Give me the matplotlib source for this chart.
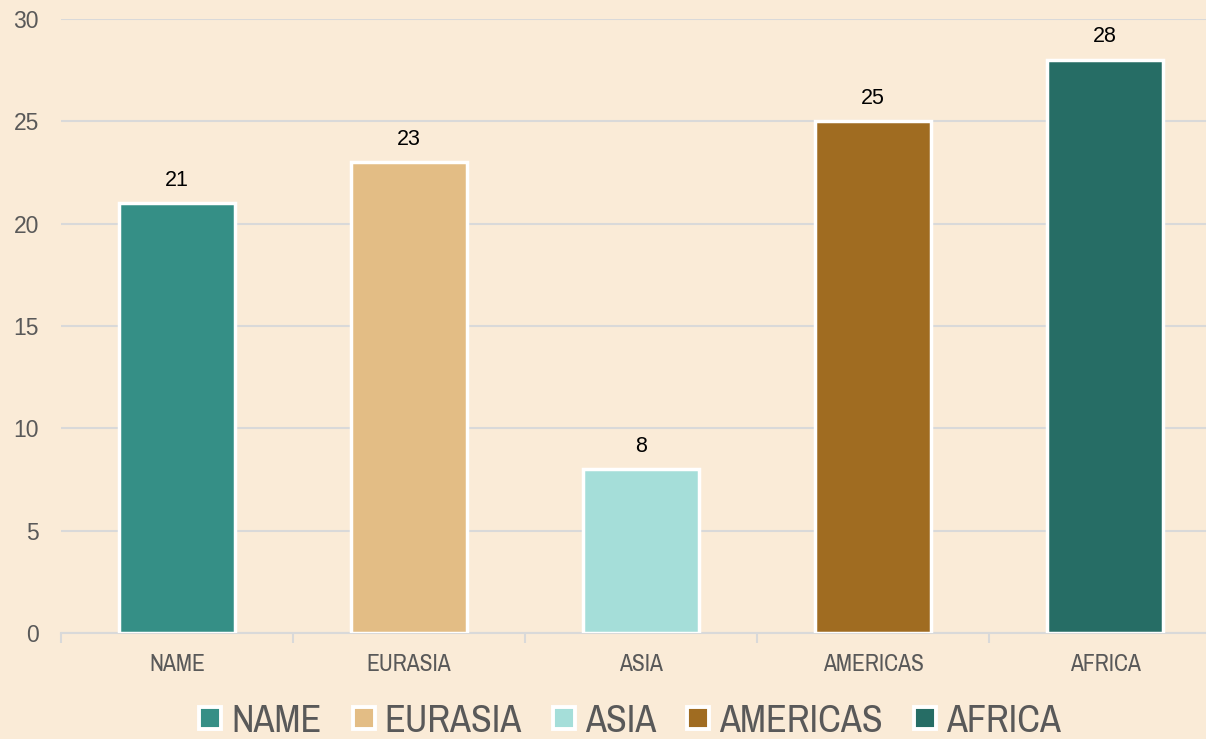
import matplotlib
matplotlib.use("Agg")
import matplotlib.pyplot as plt
from matplotlib.lines import Line2D

categories = ["NAME", "EURASIA", "ASIA", "AMERICAS", "AFRICA"]
values = [21, 23, 8, 25, 28]
colors = ["#358F86", "#E3BD85", "#A5DED9", "#A06C21", "#266D65"]
yticks = [0, 5, 10, 15, 20, 25, 30]

bg = "#FAEBD7"
grid_c = "#D9D9D9"
text_c = "#595959"
narrow = ["Archivo Narrow", "Roboto Condensed", "Liberation Sans Narrow", "Liberation Sans", "DejaVu Sans"]
numfont = ["Liberation Sans", "DejaVu Sans"]

fig = plt.figure(figsize=(12.06, 7.39), dpi=100, facecolor=bg)
ax = fig.add_axes([61/1206, 1-633/739, 1160/1206, (633-19)/739], facecolor=bg)

x = list(range(len(categories)))
bars = ax.bar(x, values, width=0.5, color=colors, edgecolor="white", linewidth=2.5, zorder=3)
for xi, v in zip(x, values):
    ax.annotate(str(v), (xi, v), xytext=(0, 9), textcoords="offset points",
                ha="center", va="bottom", fontsize=15.5, color="black", family=numfont)

ax.set_xlim(-0.5, len(categories) - 0.5)
ax.set_ylim(0, 30)
ax.set_yticks(yticks)
ax.set_yticklabels([str(t) for t in yticks], fontsize=16.5, color=text_c, family=numfont)
ax.yaxis.grid(True, color=grid_c, linewidth=1.5, zorder=0)
ax.set_axisbelow(True)
ax.tick_params(axis="y", length=0, pad=16)

ax.set_xticks(x)
ax.set_xticklabels(categories, fontsize=17, color=text_c, family=narrow)
ax.set_xticks([i - 0.5 for i in range(len(categories) + 1)], minor=True)
ax.tick_params(axis="x", which="major", length=0, pad=15)
ax.tick_params(axis="x", which="minor", length=7, width=1.5, color=grid_c, direction="out")

for s in ["top", "right", "left"]:
    ax.spines[s].set_visible(False)
ax.spines["bottom"].set_color(grid_c)
ax.spines["bottom"].set_linewidth(1.5)

handles = [Line2D([], [], marker="s", linestyle="none", markersize=16.5,
                  markerfacecolor=c, markeredgecolor="white", markeredgewidth=2.8)
           for c in colors]
fig.legend(handles, categories, loc="center", bbox_to_anchor=(628/1206, 1-721/739),
           ncol=5, frameon=False, handletextpad=0.15, columnspacing=0.7,
           handlelength=0.8, prop={"family": narrow, "size": 27.5}, labelcolor=text_c)

fig.savefig("out.png", dpi=100, facecolor=bg)
